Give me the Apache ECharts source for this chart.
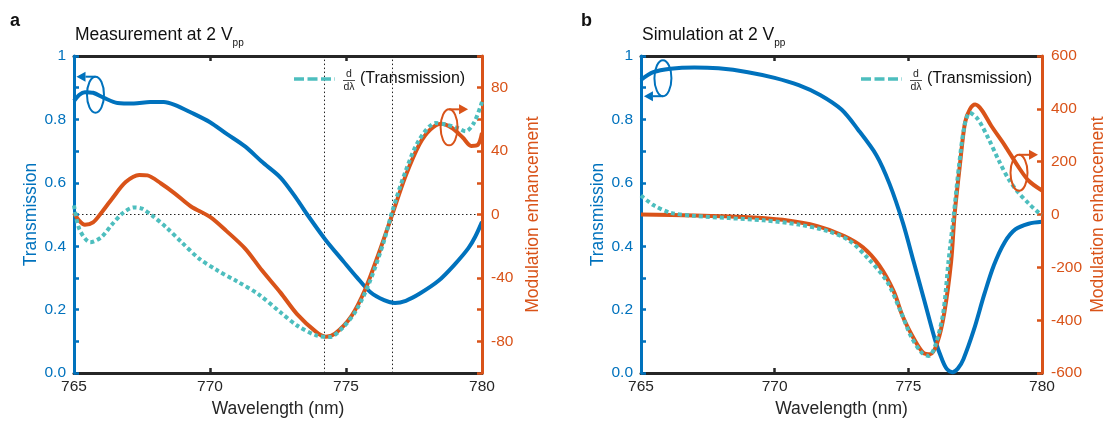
<!DOCTYPE html>
<html>
<head>
<meta charset="utf-8">
<title>Measurement and simulation at 2 Vpp</title>
<style>
html, body { margin: 0; padding: 0; background: #fff; }
#chart { width: 1108px; height: 423px; }
</style>
</head>
<body>
<div id="chart"></div>
<script src="https://cdn.jsdelivr.net/npm/echarts@6/dist/echarts.min.js"></script>
<script>
// panel a : measurement
var measTransWl = [765, 765.2, 765.4, 765.7, 766.1, 766.6, 767.2, 767.8, 768.3, 768.7, 769.3, 770, 770.6, 771.3, 771.9, 772.6, 773.2, 773.6, 774.25, 774.9, 775.4, 775.9, 776.4, 776.8, 777.2, 777.7, 778.4, 779.0, 779.5, 779.75, 780];
var measTrans = [0.858, 0.878, 0.886, 0.884, 0.868, 0.852, 0.850, 0.855, 0.855, 0.846, 0.822, 0.791, 0.755, 0.714, 0.667, 0.616, 0.548, 0.497, 0.420, 0.353, 0.302, 0.255, 0.230, 0.221, 0.228, 0.250, 0.291, 0.343, 0.394, 0.430, 0.477];
var measModWl = [765, 765.2, 765.4, 765.7, 766, 766.4, 766.9, 767.4, 767.7, 768.2, 768.7, 769.3, 770, 770.6, 771.3, 771.9, 772.6, 773.2, 773.9, 774.25, 774.6, 775.2, 775.7, 776.2, 776.7, 777.2, 777.7, 778.1, 778.5, 778.9, 779.3, 779.6, 779.85, 780];
var measMod = [1, -4, -6.5, -5, 1, 10, 20.5, 25, 24.7, 19.6, 13.4, 5.1, -1.5, -10.3, -21.6, -35, -49.4, -62.8, -74, -77, -75, -64, -47.4, -24.7, 0, 24.7, 44.3, 53.6, 57.3, 54.6, 48.4, 43.3, 44, 51.5];
var measDerivWl = [765, 765.2, 765.6, 766, 766.4, 766.8, 767.2, 767.5, 767.9, 768.4, 768.96, 769.6, 770.25, 771, 771.8, 772.6, 773.2, 773.9, 774.4, 774.9, 775.4, 775.9, 776.4, 776.7, 777.2, 777.7, 778.3, 778.7, 779.1, 779.4, 779.7, 780];
var measDeriv = [5.8, -9.3, -17.5, -14.4, -6.2, 1, 4.5, 3.7, -1, -8.2, -17.5, -27.8, -35, -42.2, -50.5, -61.8, -70, -76.2, -77.2, -71, -59.7, -41.2, -16.5, 2, 27.8, 47.4, 57.7, 56.6, 54.6, 52.5, 57.7, 71];
var measGuideWl = [774.2, 776.7];

// panel b : simulation
var simTransWl = [765, 765.46, 766.1, 767, 767.9, 769, 770, 770.9, 771.7, 772.5, 773.1, 773.8, 774.3, 774.8, 775.2, 775.6, 776, 776.28, 776.45, 776.65, 776.85, 777.06, 777.45, 777.84, 778.2, 778.6, 779, 779.5, 780];
var simTrans = [0.925, 0.949, 0.960, 0.964, 0.961, 0.949, 0.931, 0.908, 0.877, 0.831, 0.770, 0.688, 0.596, 0.473, 0.351, 0.228, 0.105, 0.039, 0.012, 0.003, 0.014, 0.044, 0.136, 0.248, 0.340, 0.412, 0.453, 0.471, 0.477];
var simModWl = [765, 767, 769, 770.3, 771.6, 772.6, 773.3, 773.9, 774.45, 774.8, 775.23, 775.56, 775.82, 776.08, 776.34, 776.6, 776.73, 776.93, 777.12, 777.3, 777.5, 777.75, 778.1, 778.6, 779.1, 779.5, 780];
var simMod = [0, -4, -10, -20, -44, -81, -124, -191, -290, -388, -474, -523, -529, -486, -375, -179, 0, 189, 348, 398, 416, 395, 336, 263, 183, 128, 91];
var simDerivWl = [765, 765.46, 766.1, 767, 768.3, 769.6, 770.9, 772, 772.8, 773.5, 774.2, 774.7, 775.1, 775.5, 775.76, 776, 776.3, 776.5, 776.7, 776.9, 777.1, 777.3, 777.6, 778, 778.4, 778.75, 779.1, 779.5, 779.9, 780];
var simDeriv = [72, 36, 7, -5, -13.5, -22, -38, -63, -99, -167, -253, -363, -461, -523, -535, -498, -375, -179, 0, 189, 336, 385, 361, 287, 201, 134, 85, 42, 5, 0];

var titles = ['Measurement at 2 V', 'Simulation at 2 V'];
var letters = ['a', 'b'];
var modRange = [100, 600];      // right axis limits (+/-)
var modStep = [20, 200];        // right axis tick step
var modLabelStep = [40, 200];   // right axis label step

var BLUE = '#0072BD', ORANGE = '#D95319', TEAL = '#4DBEBE', INK = '#262626';
var FONT = '"Liberation Sans", Arial, Helvetica, sans-serif';
var grids = [
	{ left: 74, top: 56, width: 408, height: 326 },
	{ left: 641, top: 56, width: 408, height: 326 }
];

function pairs(xs, ys) {
	return xs.map(function (x, i) { return [x, ys[i]]; });
}

var chart = echarts.init(document.getElementById('chart'));

var xAxes = [], yAxes = [], series = [];
[0, 1].forEach(function (p) {
	// bottom and top x axes
	xAxes.push({
		type: 'value', gridIndex: p, min: 765, max: 780, interval: 5, position: 'bottom',
		axisLine: { onZero: false, lineStyle: { color: INK, width: 3 } },
		axisTick: { inside: true, length: 5, lineStyle: { color: INK, width: 2.5 } },
		axisLabel: { color: INK, fontSize: 15.5, fontFamily: FONT, margin: 6 },
		splitLine: { show: false },
		name: 'Wavelength (nm)', nameLocation: 'middle', nameGap: 20,
		nameTextStyle: { color: INK, fontSize: 17.5, fontFamily: FONT }
	});
	xAxes.push({
		type: 'value', gridIndex: p, min: 765, max: 780, interval: 5, position: 'top',
		axisLine: { onZero: false, lineStyle: { color: INK, width: 3 } },
		axisTick: { inside: true, length: 5, lineStyle: { color: INK, width: 2.5 } },
		axisLabel: { show: false },
		splitLine: { show: false }
	});
	// left transmission axis
	yAxes.push({
		type: 'value', gridIndex: p, min: 0, max: 1, interval: 0.1, position: 'left', z: 3,
		axisLine: { onZero: false, lineStyle: { color: BLUE, width: 3 } },
		axisTick: { inside: true, length: 5, lineStyle: { color: BLUE, width: 2.5 } },
		axisLabel: {
			color: BLUE, fontSize: 15.5, fontFamily: FONT, margin: 8,
			formatter: function (v) {
				var k = Math.round(v * 10);
				if (k === 10) return '1';
				return k % 2 === 0 ? (k / 10).toFixed(1) : '';
			}
		},
		splitLine: { show: false },
		name: 'Transmission', nameLocation: 'middle', nameGap: 33,
		nameTextStyle: { color: BLUE, fontSize: 17.5, fontFamily: FONT }
	});
	// right modulation axis
	yAxes.push({
		type: 'value', gridIndex: p, min: -modRange[p], max: modRange[p], interval: modStep[p], position: 'right', z: 3,
		axisLine: { onZero: false, lineStyle: { color: ORANGE, width: 3 } },
		axisTick: { inside: true, length: 5, lineStyle: { color: ORANGE, width: 2.5 } },
		axisLabel: {
			color: ORANGE, fontSize: 15.5, fontFamily: FONT, margin: 9,
			formatter: function (v) {
				var r = Math.round(v);
				return r % modLabelStep[p] === 0 ? String(r) : '';
			}
		},
		splitLine: { show: false },
		name: 'Modulation enhancement', nameLocation: 'middle', nameGap: p === 0 ? 42 : 47,
		nameTextStyle: { color: ORANGE, fontSize: 17.5, fontFamily: FONT }
	});
});

var guides = [
	[{ yAxis: 0 }].concat(measGuideWl.map(function (w) { return { xAxis: w }; })),
	[{ yAxis: 0 }]
];
var panelData = [
	[pairs(measTransWl, measTrans), pairs(measModWl, measMod), pairs(measDerivWl, measDeriv)],
	[pairs(simTransWl, simTrans), pairs(simModWl, simMod), pairs(simDerivWl, simDeriv)]
];

[0, 1].forEach(function (p) {
	series.push({
		type: 'line', xAxisIndex: p * 2, yAxisIndex: p * 2, data: panelData[p][0],
		smooth: 0.3, showSymbol: false, z: 2,
		lineStyle: { color: BLUE, width: 4 }
	});
	series.push({
		type: 'line', xAxisIndex: p * 2, yAxisIndex: p * 2 + 1, data: panelData[p][1],
		smooth: 0.3, showSymbol: false, z: 3,
		lineStyle: { color: ORANGE, width: 4 },
		markLine: {
			silent: true, symbol: ['none', 'none'], z: 1, animation: false,
			label: { show: false },
			lineStyle: { type: [1.5, 2.5], color: '#222', width: 1 },
			data: guides[p]
		}
	});
	series.push({
		type: 'line', xAxisIndex: p * 2, yAxisIndex: p * 2 + 1, data: panelData[p][2],
		smooth: 0.3, showSymbol: false, z: 4,
		lineStyle: { color: TEAL, width: 4, type: [4, 3], cap: 'butt' }
	});
});

chart.setOption({
	animation: false,
	backgroundColor: '#fff',
	grid: grids,
	xAxis: xAxes,
	yAxis: yAxes,
	series: series
});

// rings with arrows: which axis a curve belongs to
var rings = [
	{ p: 0, axis: 0, at: [765.79, 0.878], side: -1, dir: -1, color: BLUE },
	{ p: 0, axis: 1, at: [778.79, 55], side: -1, dir: 1, color: ORANGE },
	{ p: 1, axis: 0, at: [765.82, 0.93], side: 1, dir: -1, color: BLUE },
	{ p: 1, axis: 1, at: [779.14, 158], side: -1, dir: 1, color: ORANGE }
];

var graphics = [];
rings.forEach(function (r) {
	var c = chart.convertToPixel({ xAxisIndex: r.p * 2, yAxisIndex: r.p * 2 + r.axis }, r.at);
	var rx = 8.5, ry = 18;
	var ay = c[1] + r.side * ry;
	var tip = c[0] + r.dir * 19;
	var base = tip - r.dir * 9;
	graphics.push({ type: 'ellipse', shape: { cx: c[0], cy: c[1], rx: rx, ry: ry }, style: { fill: 'none', stroke: r.color, lineWidth: 2 }, z: 10 });
	graphics.push({ type: 'polyline', shape: { points: [[c[0], ay], [base, ay]] }, style: { stroke: r.color, lineWidth: 2, fill: null }, z: 10 });
	graphics.push({ type: 'polygon', shape: { points: [[tip, ay], [base, ay - 5], [base, ay + 5]] }, style: { fill: r.color }, z: 10 });
});

[0, 1].forEach(function (p) {
	var g = grids[p];
	var R = g.left + g.width;
	// title with subscript
	graphics.push({
		type: 'text', left: g.left + 1, top: 26, z: 10,
		style: {
			text: '{m|' + titles[p] + '}{s|pp}',
			rich: {
				m: { fontSize: 17.5, fontFamily: FONT, fill: '#111', lineHeight: 26 },
				s: { fontSize: 10, fontFamily: FONT, fill: '#111', lineHeight: 11, verticalAlign: 'bottom' }
			}
		}
	});
	// panel letter
	graphics.push({
		type: 'text', left: p === 0 ? 10 : 581, top: 12, z: 10,
		style: { text: letters[p], fontSize: 18, fontWeight: 'bold', fontFamily: FONT, fill: '#111' }
	});
	// legend
	graphics.push({ type: 'line', shape: { x1: R - 188, y1: 79, x2: R - 147, y2: 79 }, style: { stroke: TEAL, lineWidth: 3.5, lineDash: [10, 3.5] }, z: 10 });
	graphics.push({ type: 'text', x: R - 133, y: 74, z: 10, style: { text: 'd', fontSize: 10.5, fontFamily: FONT, fill: INK, align: 'center', verticalAlign: 'middle' } });
	graphics.push({ type: 'line', shape: { x1: R - 139, y1: 80.5, x2: R - 127, y2: 80.5 }, style: { stroke: INK, lineWidth: 0.8 }, z: 10 });
	graphics.push({ type: 'text', x: R - 133, y: 87.5, z: 10, style: { text: 'dλ', fontSize: 10.5, fontFamily: FONT, fill: INK, align: 'center', verticalAlign: 'middle' } });
	graphics.push({ type: 'text', x: R - 122, y: 79, z: 10, style: { text: '(Transmission)', fontSize: 16, fontFamily: FONT, fill: '#111', align: 'left', verticalAlign: 'middle' } });
});

chart.setOption({ graphic: graphics });
</script>
</body>
</html>
